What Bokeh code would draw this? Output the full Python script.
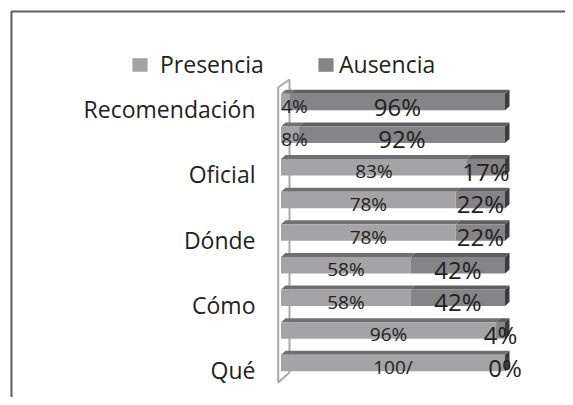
from bokeh.plotting import figure
from bokeh.models import Legend, LegendItem, Range1d, ColumnDataSource
from bokeh.embed import file_html
from bokeh.resources import INLINE
from bokeh.core.properties import value

# ---------------- data ----------------
categories = ["Recomendación", "", "Oficial", "", "Dónde", "", "Cómo", "", "Qué"]
presencia = [4, 8, 83, 78, 78, 58, 58, 96, 100]
ausencia = [96, 92, 17, 22, 22, 42, 42, 4, 0]
presencia_labels = ["4%", "8%", "83%", "78%", "78%", "58%", "58%", "96%", "100/"]
ausencia_labels = ["96%", "92%", "17%", "22%", "22%", "42%", "42%", "4%", "0%"]
series_names = ["Presencia", "Ausencia"]

# ---------------- layout constants (pixels) ----------------
W, H = 565, 397
X0_PX = 280.5          # px of x = 0
PX_X = 2.24            # px per percent
Y_TOP_PX = 101.5       # px of the top bar centre
PX_Y = 32.625          # px per bar slot
n = len(categories)
ys = [n - i for i in range(n)]

def fx(px):
    return (px - X0_PX) / PX_X

def fy(py):
    return n + (Y_TOP_PX - py) / PX_Y

BAR_H = 16.5 / PX_Y
DX = 4.5 / PX_X
DY = 4.0 / PX_Y

FONT_NAME = "Open Sans"
FONT = value(FONT_NAME)
TXT = "#231f20"
C_PRES = "#a4a4a6"
C_AUS = "#858587"
C_PRES_TOP = "#707072"
C_AUS_TOP = "#5f5f61"
C_END = "#3c3c3c"

p = figure(width=W, height=H, output_backend="svg", toolbar_location=None,
           x_axis_location=None, y_axis_location=None,
           x_range=Range1d(fx(0), fx(W)), y_range=Range1d(fy(H), fy(0)),
           min_border=0, min_border_left=0, min_border_right=0,
           min_border_top=0, min_border_bottom=0)
p.grid.visible = False
p.outline_line_color = None
p.background_fill_color = "white"
p.border_fill_color = "white"

# outer chart border (left and top edges visible)
p.line([fx(11), fx(11), fx(W + 5)], [fy(H + 5), fy(11), fy(11)],
       line_color="#5c5c5c", line_width=2)

# 3D wall
wl, wr = fx(277.7), fx(289)
p.patch([wl, wl, wr, wr], [fy(382), fy(87), fy(79), fy(372)],
        fill_color=None, line_color="#a9a9a9", line_width=2)

# top faces and end caps
top_xs, top_ys, top_cols = [], [], []
for y, pv, av in zip(ys, presencia, ausencia):
    yt = y + BAR_H / 2
    for x0, x1, c in ((0, pv, C_PRES_TOP), (pv, pv + av, C_AUS_TOP)):
        if x1 > x0:
            top_xs.append([x0, x1, x1 + DX, x0 + DX])
            top_ys.append([yt, yt, yt + DY, yt + DY])
            top_cols.append(c)
p.patches(top_xs, top_ys, fill_color=top_cols, line_color=None)

end_xs, end_ys = [], []
for y, pv, av in zip(ys, presencia, ausencia):
    yt, yb = y + BAR_H / 2, y - BAR_H / 2
    xe = pv + av
    end_xs.append([xe, xe, xe + DX, xe + DX])
    end_ys.append([yb, yt, yt + DY, yb + DY])
p.patches(end_xs, end_ys, fill_color=C_END, line_color=None)

# front faces
src = ColumnDataSource(dict(
    y=ys, pres=presencia, aus=ausencia,
    aus_end=[a + b for a, b in zip(presencia, ausencia)],
))
r_pres = p.hbar(y="y", left=0, right="pres", height=BAR_H, source=src,
                fill_color=C_PRES, line_color=None)
r_aus = p.hbar(y="y", left="pres", right="aus_end", height=BAR_H, source=src,
               fill_color=C_AUS, line_color=None)

# data labels
pres_x = [max(v / 2, 6.0) for v in presencia]
p.text(x=pres_x, y=[y - 4 / PX_Y for y in ys], text=presencia_labels,
       text_font=FONT, text_font_size="19px", text_color=TXT,
       text_align="center", text_baseline="middle")
aus_x = [pv + av / 2 for pv, av in zip(presencia, ausencia)]
p.text(x=aus_x, y=[y - 4 / PX_Y for y in ys], text=ausencia_labels,
       text_font=FONT, text_font_size="24px", text_color=TXT,
       text_align="center", text_baseline="middle")

# category labels
cat_y = [y for y, c in zip(ys, categories) if c]
cat_t = [c for c in categories if c]
p.text(x=[fx(255)] * len(cat_t), y=[y - 7 / PX_Y for y in cat_y], text=cat_t,
       text_font=FONT, text_font_size="23px", text_color=TXT,
       text_align="right", text_baseline="middle")

# legends
def make_legend(name, rend, x, standoff):
    lg = Legend(items=[LegendItem(label=name, renderers=[rend])],
                location=(x, 317), orientation="horizontal",
                glyph_width=19, glyph_height=17, label_standoff=standoff,
                label_text_font=FONT_NAME, label_text_font_size="23px",
                label_text_color=TXT, padding=0, margin=0, spacing=0,
                border_line_color=None, background_fill_alpha=0)
    p.add_layout(lg, "center")

make_legend(series_names[0], r_pres, 130, 11)
make_legend(series_names[1], r_aus, 316, 4)

open("out.html", "w").write(file_html(p, INLINE))
